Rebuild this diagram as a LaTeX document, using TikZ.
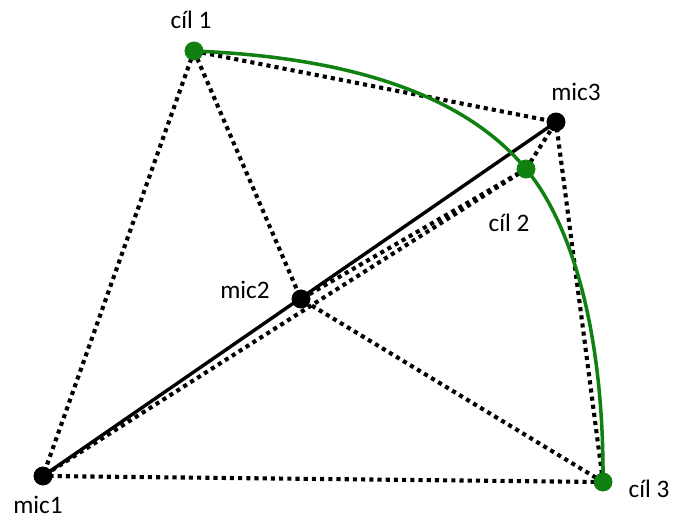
\documentclass[tikz,border=0pt]{standalone}
\usepackage{fontspec}
\setmainfont{Carlito}
\usepackage{tikz}
\usetikzlibrary{positioning}
\definecolor{tgreen}{RGB}{16,128,16}

\begin{document}
\begin{tikzpicture}[x=0.03cm,y=-0.03cm,
    dotmic/.style={circle,fill=black,inner sep=0pt,minimum size=0.56cm},
    dotcil/.style={circle,fill=tgreen,inner sep=0pt,minimum size=0.56cm},
    lbl/.style={font=\fontsize{21.5}{24}\selectfont,inner sep=0pt},
    ray/.style={line width=3.5pt,dash pattern=on 3.5pt off 3.5pt},
    base/.style={line width=2.9pt},
    arc/.style={line width=3pt,tgreen}]
    \useasboundingbox (0,0) rectangle (673,520);
    % microphones and targets
    \node[dotmic] (m1) at (43,476) {};
    \node[dotmic] (m2) at (301,299) {};
    \node[dotmic] (m3) at (556,122) {};
    \node[dotcil] (c1) at (194,51) {};
    \node[dotcil] (c2) at (526,169) {};
    \node[dotcil] (c3) at (603,482) {};
    % dotted distances
    \foreach \c in {c1,c2,c3}
        \foreach \m in {m1,m2,m3}
            \draw[ray] (\c.center) -- (\m.center);
    \draw[base] (m1.center) -- (m3.center);
    \draw[arc] (c1.center) .. controls (344,57) and (462,92) .. (c2.center)
        .. controls (571,223) and (604,330) .. (c3.center);
    % redraw the dots on top
    \foreach \n/\s in {m1/dotmic,m2/dotmic,m3/dotmic,c1/dotcil,c2/dotcil,c3/dotcil}
        \node[\s] at (\n) {};
    % labels
    \node[lbl] (lc1) at (191,20) {cíl 1};
    \node[lbl] (lc2) at (509,223) {cíl 2};
    \node[lbl] (lc3) at (649,489) {cíl 3};
    \node[lbl] (lm1) at (38,505) {mic1};
    \node[lbl] (lm2) at (245,290) {mic2};
    \node[lbl] (lm3) at (576,92) {mic3};
\end{tikzpicture}
\end{document}
